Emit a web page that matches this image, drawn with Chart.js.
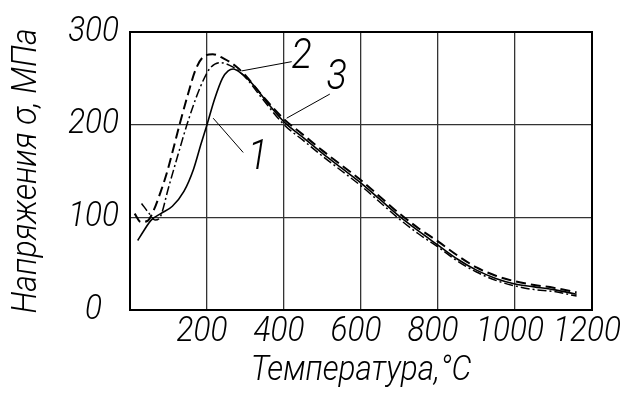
<!DOCTYPE html>
<html>
<head>
<meta charset="utf-8">
<script src="https://cdn.jsdelivr.net/npm/chart.js@4/dist/chart.umd.min.js"></script>
<style>
  html, body { margin: 0; padding: 0; background: #ffffff; }
  #wrap { width: 627px; height: 394px; }
</style>
</head>
<body>
<div id="wrap"><canvas id="c" width="627" height="394"></canvas></div>
<script>
// ---- data ----
const xTicks = [0, 200, 400, 600, 800, 1000, 1200];
const yTicks = [0, 100, 200, 300];

// Curve 1 (solid)
const curve1Temp   = [20, 35, 55, 80, 110, 140, 165, 185, 200, 220, 240, 255, 268, 290, 320, 360, 400, 450, 500, 550, 600, 650, 700, 750, 800, 850, 900, 950, 1000, 1050, 1100, 1160];
const curve1Stress = [75, 85, 97, 104, 112, 128, 152, 180, 200, 228, 250, 258, 260, 255, 243, 222, 203, 186, 169, 153, 137, 119, 101, 85, 70, 55, 43, 34, 28, 25, 22, 17];

// Curve 2 (dashed)
const curve2Temp   = [12, 28, 45, 62, 80, 95, 110, 130, 150, 170, 190, 215, 245, 275, 300, 340, 400, 450, 500, 550, 600, 650, 700, 750, 800, 850, 900, 950, 1000, 1050, 1100, 1160];
const curve2Stress = [104, 95, 96, 108, 128, 147, 170, 202, 232, 259, 273, 276, 271, 263, 253, 233, 206, 189, 172, 156, 140, 122, 104, 88, 74, 59, 46, 37, 31, 27, 24, 19];

// Curve 3 (dash-dot)
const curve3Temp   = [30, 50, 65, 78, 100, 125, 151, 182, 208, 234, 268, 300, 340, 400, 450, 500, 550, 600, 650, 700, 750, 800, 850, 900, 950, 1000, 1050, 1100, 1160];
const curve3Stress = [115, 104, 97, 100, 132, 168, 204, 240, 261, 267, 262, 251, 230, 200, 183, 166, 150, 134, 116, 98, 82, 68, 53, 41, 32, 26, 22, 20, 15];

// curve labels with leader lines (data coordinates)
const labelTexts = ['1', '2', '3'];
const labelTemp  = [332, 446, 537];
const labelStress= [163, 272, 250];
const leaderFromT = [216, 290, 407];
const leaderFromS = [207, 258, 207];
const leaderToT   = [294, 420, 519];
const leaderToS   = [170, 268, 233];

const xTitle = 'Температура,°C';
const yTitle = 'Напряжения σ, МПа';

const FONT = 'Roboto, "DejaVu Sans", sans-serif';
const SX = 0.9; // horizontal condensing of all text (narrow drafting font look)

function pts(t, s) { return t.map((v, i) => ({ x: v, y: s[i] })); }

const condensePlugin = {
  id: 'condense',
  beforeInit(chart) {
    const ctx = chart.ctx;
    const origFill = ctx.fillText.bind(ctx);
    const origMeasure = ctx.measureText.bind(ctx);
    ctx.fillText = function (text, x, y, maxWidth) {
      this.save();
      this.translate(x, y);
      this.scale(SX, 1);
      if (maxWidth !== undefined) origFill(text, 0, 0, maxWidth / SX); else origFill(text, 0, 0);
      this.restore();
    };
    ctx.measureText = function (text) {
      const m = origMeasure(text);
      return {
        width: m.width * SX,
        actualBoundingBoxAscent: m.actualBoundingBoxAscent,
        actualBoundingBoxDescent: m.actualBoundingBoxDescent,
        actualBoundingBoxLeft: m.actualBoundingBoxLeft * SX,
        actualBoundingBoxRight: m.actualBoundingBoxRight * SX
      };
    };
  }
};

const boxPlugin = {
  id: 'box',
  afterDraw(chart) {
    const { ctx, chartArea: a } = chart;
    ctx.save();
    ctx.strokeStyle = '#000';
    ctx.lineWidth = 2;
    ctx.strokeRect(a.left, a.top, a.right - a.left, a.bottom - a.top);
    ctx.restore();
  }
};

const labelPlugin = {
  id: 'curveLabels',
  afterDatasetsDraw(chart) {
    const { ctx, scales: { x, y } } = chart;
    ctx.save();
    ctx.strokeStyle = '#000';
    ctx.lineWidth = 1;
    for (let i = 0; i < labelTexts.length; i++) {
      ctx.beginPath();
      ctx.moveTo(x.getPixelForValue(leaderFromT[i]), y.getPixelForValue(leaderFromS[i]));
      ctx.lineTo(x.getPixelForValue(leaderToT[i]), y.getPixelForValue(leaderToS[i]));
      ctx.stroke();
    }
    ctx.fillStyle = '#000';
    ctx.font = 'italic 300 42px ' + FONT;
    ctx.textAlign = 'center';
    ctx.textBaseline = 'middle';
    for (let i = 0; i < labelTexts.length; i++) {
      ctx.fillText(labelTexts[i], x.getPixelForValue(labelTemp[i]), y.getPixelForValue(labelStress[i]));
    }
    ctx.restore();
  }
};

const tickFont = { family: FONT, size: 35, style: 'italic', weight: 300 };

new Chart(document.getElementById('c'), {
  type: 'line',
  data: {
    datasets: [
      { label: '1', data: pts(curve1Temp, curve1Stress), borderColor: '#000', borderWidth: 1.6, borderDash: [], pointRadius: 0, fill: false, cubicInterpolationMode: 'monotone' },
      { label: '2', data: pts(curve2Temp, curve2Stress), borderColor: '#000', borderWidth: 2, borderDash: [10, 5], pointRadius: 0, fill: false, cubicInterpolationMode: 'monotone' },
      { label: '3', data: pts(curve3Temp, curve3Stress), borderColor: '#000', borderWidth: 1.5, borderDash: [9, 3, 2, 3], pointRadius: 0, fill: false, cubicInterpolationMode: 'monotone' }
    ]
  },
  options: {
    responsive: false,
    animation: false,
    layout: { padding: { left: 0, right: 35, top: 31, bottom: 0 } },
    plugins: { legend: { display: false }, tooltip: { enabled: false } },
    scales: {
      x: {
        type: 'linear', min: 0, max: 1200,
        afterBuildTicks(s) { s.ticks = xTicks.map(v => ({ value: v })); },
        afterFit(s) { s.height = 84; },
        grid: { color: '#333', lineWidth: 1.3, drawTicks: false },
        border: { color: '#000', width: 2 },
        ticks: {
          padding: 1, labelOffset: -5, color: '#000', maxRotation: 0, autoSkip: false,
          font: tickFont,
          callback: v => (v === 0 ? '' : String(v))
        },
        title: { display: true, text: xTitle, color: '#000', padding: { top: 0, bottom: 2 },
                 font: { family: FONT, size: 35, style: 'italic', weight: 300 } }
      },
      y: {
        type: 'linear', min: 0, max: 300,
        afterBuildTicks(s) { s.ticks = yTicks.map(v => ({ value: v })); },
        afterFit(s) { s.width = 130; },
        grid: { color: '#333', lineWidth: 1.3, drawTicks: false },
        border: { color: '#000', width: 2 },
        ticks: {
          padding: 11, crossAlign: 'center', color: '#000', autoSkip: false,
          font: tickFont
        },
        title: { display: true, text: yTitle, color: '#000', padding: { top: 6, bottom: 0 },
                 font: { family: FONT, size: 35.5, style: 'italic', weight: 300 } }
      }
    }
  },
  plugins: [condensePlugin, boxPlugin, labelPlugin]
});
</script>
</body>
</html>
